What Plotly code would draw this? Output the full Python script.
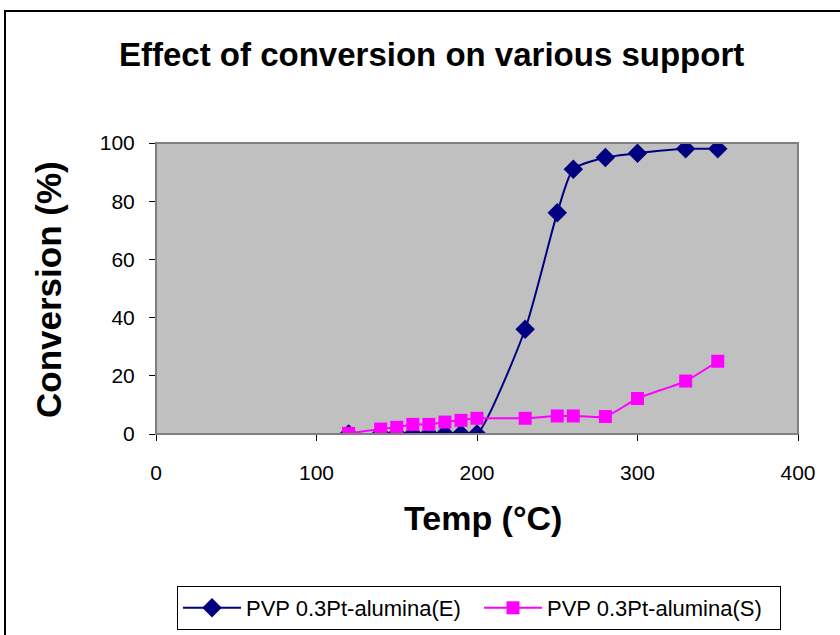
import plotly.graph_objects as go

temps_e = [120, 140, 150, 160, 170, 180, 190, 200, 230, 250, 260, 280, 300, 330, 350]
conv_e = [0, 0, 0, 0, 0, 0, 0, 0, 36, 76, 91, 95, 96.5, 98, 98]
temps_s = [120, 140, 150, 160, 170, 180, 190, 200, 230, 250, 260, 280, 300, 330, 350]
conv_s = [0.2, 1.7, 2.3, 3.3, 3.3, 4.1, 4.7, 5.4, 5.4, 6.2, 6.2, 6.0, 12.2, 18.2, 25]
name_e = "PVP 0.3Pt-alumina(E)"
name_s = "PVP 0.3Pt-alumina(S)"
x_ticks = [0, 100, 200, 300, 400]
y_ticks = [0, 20, 40, 60, 80, 100]

FONT = "Liberation Sans, Arial, sans-serif"

fig = go.Figure()
fig.add_trace(go.Scatter(
    x=temps_e, y=conv_e, name=name_e, mode="lines+markers",
    line=dict(color="#000080", width=2, shape="spline", smoothing=0.6),
    marker=dict(symbol="diamond", size=15, color="#000080"),
))
fig.add_trace(go.Scatter(
    x=temps_s, y=conv_s, name=name_s, mode="lines+markers",
    line=dict(color="#FF00FF", width=2, shape="spline", smoothing=0.6),
    marker=dict(symbol="square", size=13, color="#FF00FF"),
))

L, R, T, B = 156, 42, 143, 201
W, H = 840, 635
pw, ph = W - L - R, H - T - B

def px(xp):
    return (xp - L) / pw

def py(yp):
    return (H - B - yp) / ph

fig.update_layout(
    width=W, height=H,
    margin=dict(l=L, r=R, t=T, b=B, pad=0),
    paper_bgcolor="white",
    plot_bgcolor="#C0C0C0",
    font=dict(family=FONT, color="black", size=16),
    showlegend=True,
    legend=dict(orientation="h", xref="container", yref="container",
                x=177 / W, xanchor="left", y=1 - 630 / H, yanchor="bottom",
                bordercolor="black", borderwidth=1, bgcolor="white",
                font=dict(size=22, family=FONT), tracegroupgap=0,
                itemwidth=58,
                entrywidth=228, entrywidthmode="pixels"),
    xaxis=dict(range=[0, 400], tickvals=x_ticks, showgrid=False,
               zeroline=False, showline=True, linecolor="black", linewidth=1,
               ticks="outside", ticklen=6, tickcolor="black",
               tickfont=dict(size=21), ticklabelstandoff=14, automargin=False),
    yaxis=dict(range=[0, 100], tickvals=y_ticks, showgrid=False,
               zeroline=False, showline=True, linecolor="black", linewidth=1,
               ticks="outside", ticklen=6, tickcolor="black",
               tickfont=dict(size=21), ticklabelstandoff=10, automargin=False),
    annotations=[
        dict(text="<b>Effect of conversion on various support</b>", xref="paper", yref="paper",
             x=px(431), y=py(55), xanchor="center", yanchor="middle", showarrow=False,
             font=dict(size=33, family=FONT)),
        dict(text="<b>Temp (°C)</b>", xref="paper", yref="paper",
             x=px(483), y=py(518), xanchor="center", yanchor="middle", showarrow=False,
             font=dict(size=34, family=FONT)),
        dict(text="<b>Conversion (%)</b>", xref="paper", yref="paper",
             x=px(48), y=py(290), xanchor="center", yanchor="middle", showarrow=False,
             textangle=-90, font=dict(size=35, family=FONT)),
    ],
    shapes=[
        dict(type="rect", xref="paper", yref="paper", x0=0, x1=1, y0=0, y1=1,
             line=dict(color="#808080", width=2), fillcolor="rgba(0,0,0,0)", layer="above"),
        dict(type="rect", xref="paper", yref="paper", x0=px(5), x1=px(850), y0=py(11), y1=py(650),
             line=dict(color="black", width=2), fillcolor="rgba(0,0,0,0)"),
    ],
)

fig.write_html("out.html")
